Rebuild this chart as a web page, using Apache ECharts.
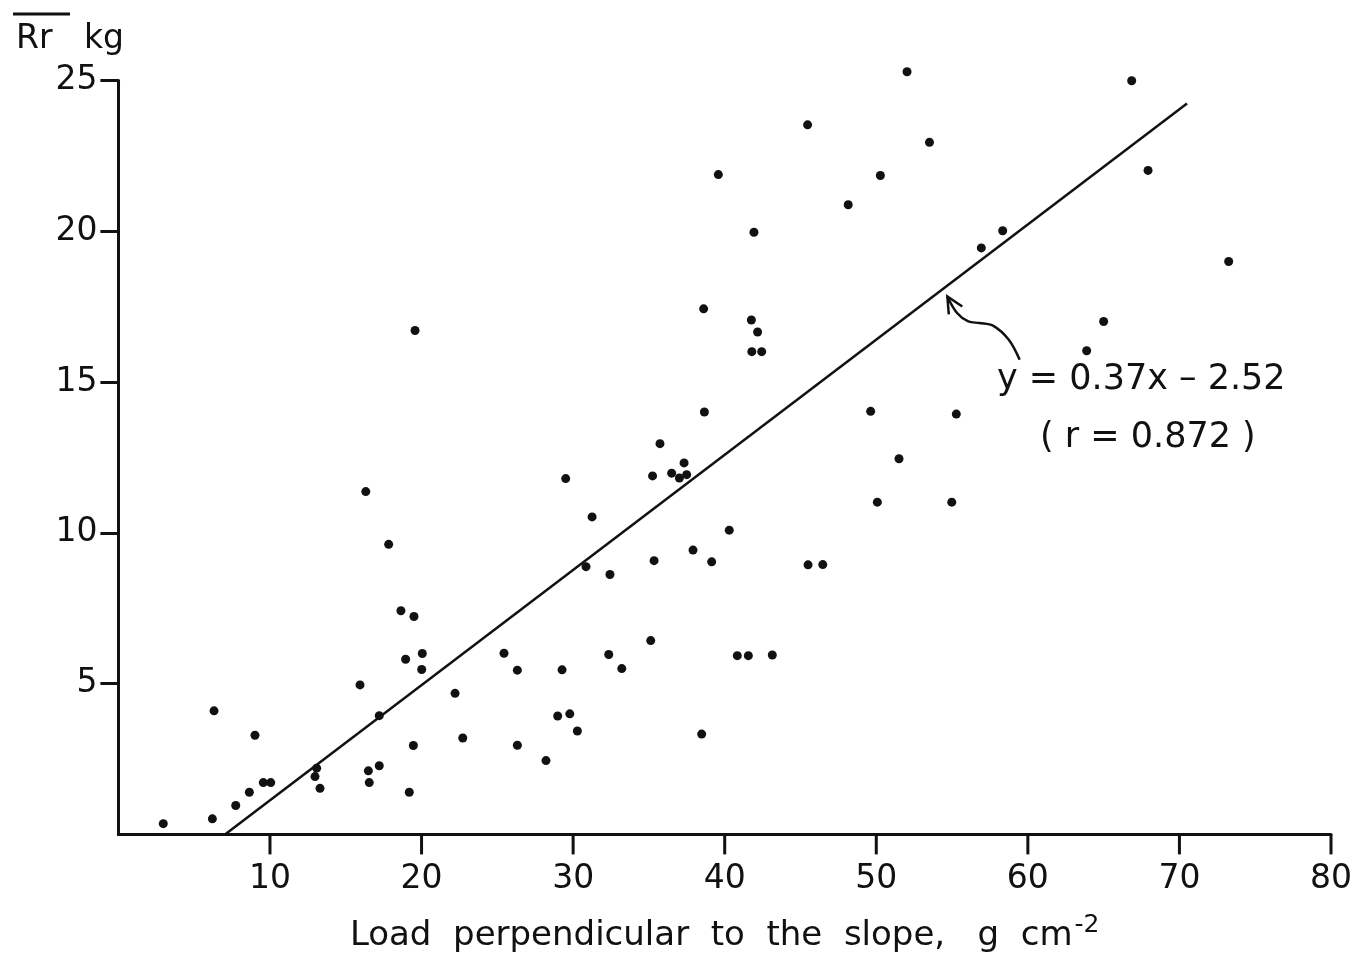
<!DOCTYPE html>
<html><head><meta charset="utf-8">
<script src="https://cdn.jsdelivr.net/npm/echarts@6/dist/echarts.min.js"></script>
<style>html,body{margin:0;padding:0;background:#fff}#c{width:1358px;height:958px}</style>
</head><body><div id="c"></div>
<script>
// Load perpendicular to the slope (g cm^-2)
const loadX = [2.96, 6.20, 6.31, 7.74, 8.64, 9.01, 9.56, 10.05, 13.08, 12.97,
  13.30, 16.32, 15.94, 16.49, 16.55, 17.21, 17.21, 17.83, 18.64, 18.95,
  19.50, 19.46, 19.19, 19.57, 20.05, 20.01, 22.21, 22.72, 25.44, 26.32,
  26.32, 28.21, 28.98, 29.27, 29.51, 29.78, 30.28, 30.85, 31.25, 32.43,
  32.35, 33.21, 35.12, 35.34, 35.24, 35.73, 36.50, 37.01, 37.49, 37.32,
  37.91, 38.61, 38.48, 38.66, 39.14, 39.58, 40.30, 40.83, 41.56, 41.76,
  41.93, 42.17, 41.79, 42.44, 43.14, 45.47, 45.50, 46.47, 48.15, 49.63,
  50.07, 50.27, 51.50, 52.03, 53.51, 54.98, 55.28, 56.93, 58.34, 63.88,
  65.00, 66.85, 67.93, 73.25];
// Mean Rr (kg)
const rrY = [0.36, 0.52, 4.10, 0.96, 1.40, 3.29, 1.72, 1.72, 2.20, 1.92,
  1.53, 11.37, 4.96, 2.11, 1.72, 2.28, 3.94, 9.62, 7.42, 5.81,
  7.23, 2.95, 1.40, 16.71, 6.00, 5.47, 4.68, 3.20, 6.01, 5.45,
  2.96, 2.45, 3.93, 5.46, 11.80, 4.00, 3.43, 8.88, 10.53, 8.62,
  5.97, 5.50, 6.43, 9.08, 11.89, 12.96, 11.98, 11.82, 11.93, 12.32,
  9.43, 17.43, 3.33, 14.01, 9.04, 21.88, 10.09, 5.93, 5.93, 17.06,
  19.97, 16.66, 16.01, 16.01, 5.95, 23.53, 8.94, 8.95, 20.88, 14.03,
  11.02, 21.85, 12.46, 25.29, 22.95, 11.02, 13.94, 19.45, 20.02, 16.04,
  17.01, 24.99, 22.02, 19.00];
// Regression line end points (as drawn)
const fitX = [7.03, 70.5];
const fitY = [0, 24.24];
// Annotation arrow path (data coordinates)
const arrowX = [59.46, 58.73, 57.70, 56.81, 56.07, 55.33, 54.69];
const arrowY = [15.74, 16.41, 16.87, 16.96, 17.01, 17.29, 17.84];
// Tick labels
const xTicks = [10, 20, 30, 40, 50, 60, 70, 80];
const yTicks = [5, 10, 15, 20, 25];
const eqText = ['y = 0.37x – 2.52', '( r = 0.872 )'];
const yTitle = 'Rr   kg';
const xTitle = 'Load  perpendicular  to  the  slope,   g  cm';
const xTitleSup = '-2';

const FONT = 'DejaVu Sans';
const INK = '#111';
const chart = echarts.init(document.getElementById('c'), null, {renderer: 'canvas'});

const scatterData = loadX.map((x, i) => [x, rrY[i]]);
const fitData = fitX.map((x, i) => [x, fitY[i]]);
// x tick segments: each tick is a short line series from the axis downward,
// built from the tick values (y slightly below 0 maps below the axis line)
const tickSeries = xTicks.map(v => ({
  type: 'line', data: [[v, 0], [v, -0.66]], showSymbol: false, symbol: 'none',
  lineStyle: {color: INK, width: 3}, clip: false, silent: true, z: 6
}));

const option = {
  animation: false,
  backgroundColor: '#fff',
  grid: {left: 118.4, right: 27, top: 80.5, bottom: 123.5, containLabel: false},
  xAxis: {
    type: 'value', min: 0, max: 80, interval: 10,
    axisLine: {show: true, lineStyle: {color: INK, width: 3}},
    axisTick: {show: false},
    axisLabel: {customValues: xTicks, fontFamily: FONT, fontSize: 33, color: INK, margin: 28},
    splitLine: {show: false},
    name: '{a|' + xTitle + '}{s|' + xTitleSup + '}',
    nameLocation: 'middle', nameGap: 78,
    nameTextStyle: {
      rich: {
        a: {fontFamily: FONT, fontSize: 34, color: INK},
        s: {fontFamily: FONT, fontSize: 25, color: INK, padding: [0, 0, 22, 2]}
      }
    }
  },
  yAxis: {
    type: 'value', min: 0, max: 25, interval: 5,
    axisLine: {show: true, lineStyle: {color: INK, width: 3}},
    axisTick: {show: true, inside: false, length: 18, customValues: yTicks, lineStyle: {color: INK, width: 3}},
    axisLabel: {customValues: yTicks, fontFamily: FONT, fontSize: 33, color: INK, margin: 21},
    splitLine: {show: false}
  },
  graphic: [
    {type: 'text', left: 16, top: 23, style: {text: yTitle, fontFamily: FONT, fontSize: 33, fill: INK}},
    {type: 'line', shape: {x1: 13, y1: 14, x2: 70, y2: 14}, style: {stroke: INK, lineWidth: 3}},
    {type: 'text', left: 997, top: 362, style: {text: eqText[0], fontFamily: FONT, fontSize: 35, fill: INK}},
    {type: 'text', left: 1040, top: 420, style: {text: eqText[1], fontFamily: FONT, fontSize: 35, fill: INK}}
  ],
  series: [
    {
      type: 'scatter', data: scatterData, symbol: 'circle', symbolSize: 9,
      itemStyle: {color: INK, opacity: 1}, clip: false, z: 3
    },
    {
      type: 'line', data: fitData, showSymbol: false, symbol: 'none',
      lineStyle: {color: INK, width: 2.5}, z: 2
    },
    {
      type: 'custom', data: [[arrowX[0], arrowY[0]]], z: 2, clip: false,
      renderItem: function (params, api) {
        const pts = arrowX.map((x, i) => api.coord([x, arrowY[i]]));
        const tip = pts[pts.length - 1];
        const prev = pts[pts.length - 2];
        const ang = Math.atan2(tip[1] - prev[1], tip[0] - prev[0]);
        const L = 18, spread = 0.45;
        const a1 = [tip[0] - L * Math.cos(ang - spread), tip[1] - L * Math.sin(ang - spread)];
        const a2 = [tip[0] - L * Math.cos(ang + spread), tip[1] - L * Math.sin(ang + spread)];
        return {
          type: 'group',
          children: [
            {type: 'polyline', shape: {points: pts, smooth: 0.35}, style: {stroke: INK, lineWidth: 2.5, fill: null}},
            {type: 'polyline', shape: {points: [a1, tip, a2]}, style: {stroke: INK, lineWidth: 2.5, fill: null}}
          ]
        };
      }
    }
  ].concat(tickSeries)
};
chart.setOption(option);
</script>
</body></html>
